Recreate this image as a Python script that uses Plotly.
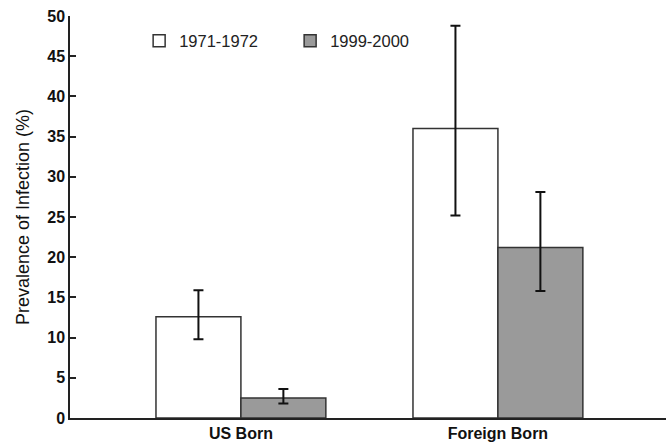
import plotly.graph_objects as go

categories = ["US Born", "Foreign Born"]
series_names = ["1971-1972", "1999-2000"]
prev_1971 = [12.6, 36.0]
upper_1971 = [15.9, 48.8]
lower_1971 = [9.8, 25.2]
prev_1999 = [2.5, 21.2]
upper_1999 = [3.6, 28.1]
lower_1999 = [1.8, 15.8]
y_ticks = [0, 5, 10, 15, 20, 25, 30, 35, 40, 45, 50]

xpos = list(range(len(categories)))

def err(vals, up, lo):
    return dict(type="data", symmetric=False,
                array=[u - v for u, v in zip(up, vals)],
                arrayminus=[v - l for v, l in zip(vals, lo)],
                color="#111111", thickness=2, width=5)

fig = go.Figure()
fig.add_trace(go.Bar(x=xpos, y=prev_1971, name=series_names[0],
                     marker=dict(color="white", line=dict(color="#333333", width=1.5)),
                     error_y=err(prev_1971, upper_1971, lower_1971)))
fig.add_trace(go.Bar(x=xpos, y=prev_1999, name=series_names[1],
                     marker=dict(color="#9a9a9a", line=dict(color="#333333", width=1.5)),
                     error_y=err(prev_1999, upper_1999, lower_1999)))

fig.update_layout(
    width=666, height=445,
    margin=dict(l=70, r=0, t=16, b=27),
    paper_bgcolor="white", plot_bgcolor="white",
    barmode="group", bargap=0.339, bargroupgap=0,
    font=dict(family="Liberation Sans, Arial, sans-serif", color="#111111"),
    showlegend=True,
    legend=dict(orientation="h", x=0.116, y=0.938, xanchor="left", yanchor="middle",
                entrywidth=106, entrywidthmode="pixels",
                font=dict(size=16.5, color="#222222"), bgcolor="rgba(0,0,0,0)",
                traceorder="normal"),
    xaxis=dict(tickmode="array", tickvals=xpos, ticktext=["<b>%s</b>" % c for c in categories],
               range=[-0.665, 1.654], showline=True, linecolor="#222222", linewidth=1.5,
               ticks="", showgrid=False, zeroline=False,
               tickfont=dict(size=16, color="#111111")),
    yaxis=dict(range=[0, 50], tickmode="array", tickvals=y_ticks,
               ticktext=["<b>%d</b>" % t for t in y_ticks],
               showline=True, linecolor="#222222", linewidth=1.5,
               ticks="inside", ticklen=6, tickwidth=1.5, tickcolor="#222222",
               showgrid=False, zeroline=False,
               tickfont=dict(size=16, color="#111111"),
               title=dict(text="Prevalence of Infection (%)", font=dict(size=18, color="#111111"), standoff=13)),
)

fig.write_html("out.html", config={"displayModeBar": False},
               post_script="document.body.style.margin='0';")
